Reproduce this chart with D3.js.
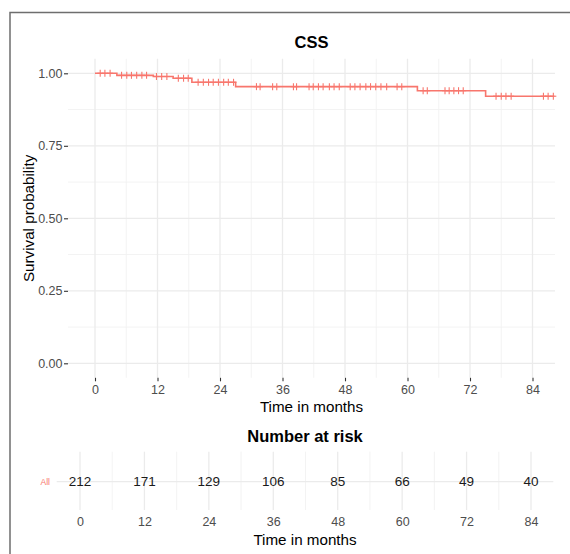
<!DOCTYPE html>
<html>
<head>
<meta charset="utf-8">
<script src="https://cdn.jsdelivr.net/npm/d3@7"></script>
<style>
  body { margin: 0; background: #fff; }
  svg { display: block; font-family: "Liberation Sans", Arial, sans-serif; }
</style>
</head>
<body>
<svg id="chart"></svg>
<script>
// Kaplan-Meier steps (time in months, survival)
const stepTimes = [0, 4.2, 11.2, 15.0, 18.6, 27.0, 61.9, 75.0];
const stepSurv = [1.0, 0.993, 0.989, 0.983, 0.969, 0.954, 0.940, 0.921];
const endTime = 88.2;

// censoring marks
const censorTimes = [
  1.0, 1.9, 2.9,
  5.1, 6.1, 7.0, 8.0, 9.0, 9.9,
  11.8, 12.8, 13.8,
  16.0, 17.0, 17.9,
  19.8, 20.8, 21.8, 22.7, 23.7, 24.7, 25.6, 26.6,
  31.0, 31.7, 34.1, 34.9, 38.1, 38.7, 41.1, 41.9, 42.9, 43.8, 45.0, 45.9, 46.9,
  49.0, 49.9, 50.9, 52.0, 52.9, 53.9, 54.9, 56.0, 58.0, 58.9,
  63.0, 63.8, 67.2, 68.0, 68.9, 69.8, 70.7,
  77.0, 78.0, 78.9, 79.9, 86.1, 87.0, 88.0
];

const xTicks = [0, 12, 24, 36, 48, 60, 72, 84];
const xMinor = [6, 18, 30, 42, 54, 66, 78];
const yTicks = [0, 0.25, 0.5, 0.75, 1];
const yMinor = [0.125, 0.375, 0.625, 0.875];
const atRisk = [212, 171, 129, 106, 85, 66, 49, 40];

const W = 570, H = 554;
const red = "#F8766D";
const grid = "#ebebeb";
const font = "'Liberation Sans', Arial, sans-serif";

const svg = d3.select("#chart").attr("width", W).attr("height", H);

// outer frame
svg.append("rect")
  .attr("x", 10).attr("y", 12.5)
  .attr("width", 600).attr("height", 600)
  .attr("fill", "none").attr("stroke", "#6e6e6e").attr("stroke-width", 1.5);

// ---- main survival plot ----
const px = { left: 68, right: 555, top: 58.8, bottom: 377.8 };
const x = d3.scaleLinear().domain([0, 84]).range([95, 532.5]);
const y = d3.scaleLinear().domain([0, 1]).range([363.3, 73.3]);

const main = svg.append("g");

main.selectAll(".vminor").data(xMinor).enter().append("line")
  .attr("x1", d => x(d)).attr("x2", d => x(d))
  .attr("y1", px.top).attr("y2", px.bottom)
  .attr("stroke", "#f2f2f2").attr("stroke-width", 0.9);
main.selectAll(".hminor").data(yMinor).enter().append("line")
  .attr("x1", px.left).attr("x2", px.right)
  .attr("y1", d => y(d)).attr("y2", d => y(d))
  .attr("stroke", "#f2f2f2").attr("stroke-width", 0.9);
main.selectAll(".vmajor").data(xTicks).enter().append("line")
  .attr("x1", d => x(d)).attr("x2", d => x(d))
  .attr("y1", px.top).attr("y2", px.bottom)
  .attr("stroke", grid).attr("stroke-width", 1.3);
main.selectAll(".hmajor").data(yTicks).enter().append("line")
  .attr("x1", px.left).attr("x2", px.right)
  .attr("y1", d => y(d)).attr("y2", d => y(d))
  .attr("stroke", grid).attr("stroke-width", 1.3);

// axes
const xAxis = main.append("g")
  .attr("transform", `translate(0,${px.bottom})`)
  .call(d3.axisBottom(x).tickValues(xTicks).tickSize(3.5).tickPadding(3.5));
const yAxis = main.append("g")
  .attr("transform", `translate(${px.left},0)`)
  .call(d3.axisLeft(y).tickValues(yTicks).tickFormat(d3.format(".2f")).tickSize(4).tickPadding(1.5));
[xAxis, yAxis].forEach(a => {
  a.select(".domain").remove();
  a.selectAll(".tick line").attr("stroke", "#333").attr("stroke-width", 1.1);
  a.selectAll("text").attr("fill", "#4d4d4d").style("font-size", "12.5px")
    .style("font-family", font);
});

// KM curve
const pts = stepTimes.map((t, i) => [t, stepSurv[i]]);
pts.push([endTime, stepSurv[stepSurv.length - 1]]);
const line = d3.line().x(d => x(d[0])).y(d => y(d[1])).curve(d3.curveStepAfter);
main.append("path").datum(pts)
  .attr("d", line).attr("fill", "none")
  .attr("stroke", red).attr("stroke-width", 1.6);

function survAt(t) {
  let s = 1;
  stepTimes.forEach((st, i) => { if (t >= st) s = stepSurv[i]; });
  return s;
}
const marks = main.selectAll(".cens").data(censorTimes).enter().append("g")
  .attr("transform", d => `translate(${x(d)},${y(survAt(d))})`);
marks.append("line").attr("x1", 0).attr("x2", 0).attr("y1", -3.5).attr("y2", 3.5)
  .attr("stroke", red).attr("stroke-width", 1.1);
marks.append("line").attr("x1", -3).attr("x2", 3).attr("y1", 0).attr("y2", 0)
  .attr("stroke", red).attr("stroke-width", 1.1);

// titles
const midX = (px.left + px.right) / 2;
svg.append("text").attr("x", midX).attr("y", 42).attr("dy", "0.35em")
  .attr("text-anchor", "middle").style("font-size", "16.5px").style("font-weight", "bold")
  .text("CSS");
svg.append("text").attr("x", midX).attr("y", 406.7).attr("dy", "0.35em")
  .attr("text-anchor", "middle").style("font-size", "15.2px").attr("fill", "#000")
  .text("Time in months");
svg.append("text")
  .attr("transform", `translate(29,${(px.top + px.bottom) / 2}) rotate(-90)`)
  .attr("dy", "0.35em").attr("text-anchor", "middle").style("font-size", "15.2px")
  .text("Survival probability");

// ---- number at risk table ----
const rt = { left: 56.7, right: 553.3, top: 451.7, bottom: 510, row: 481.7 };
const xr = d3.scaleLinear().domain([0, 84]).range([80, 531]);
const risk = svg.append("g");

risk.selectAll(".rminor").data(xMinor).enter().append("line")
  .attr("x1", d => xr(d)).attr("x2", d => xr(d))
  .attr("y1", rt.top).attr("y2", rt.bottom)
  .attr("stroke", "#f2f2f2").attr("stroke-width", 0.9);
risk.selectAll(".rmajor").data(xTicks).enter().append("line")
  .attr("x1", d => xr(d)).attr("x2", d => xr(d))
  .attr("y1", rt.top).attr("y2", rt.bottom)
  .attr("stroke", grid).attr("stroke-width", 1.3);
risk.append("line")
  .attr("x1", rt.left).attr("x2", rt.right).attr("y1", rt.row).attr("y2", rt.row)
  .attr("stroke", grid).attr("stroke-width", 1.3);

risk.selectAll(".num").data(atRisk).enter().append("text")
  .attr("x", (d, i) => xr(xTicks[i])).attr("y", rt.row).attr("dy", "0.35em")
  .attr("text-anchor", "middle").style("font-size", "13.5px").attr("fill", "#1a1a1a")
  .text(d => d);

risk.append("text").attr("x", 50).attr("y", rt.row).attr("dy", "0.35em")
  .attr("text-anchor", "end").style("font-size", "8.5px").attr("fill", red)
  .text("All");

const rAxis = risk.append("g")
  .attr("transform", `translate(0,${rt.bottom})`)
  .call(d3.axisBottom(xr).tickValues(xTicks).tickSize(0).tickPadding(7));
rAxis.select(".domain").remove();
rAxis.selectAll("text").attr("fill", "#4d4d4d").style("font-size", "12.5px")
  .style("font-family", font);

const rMid = (rt.left + rt.right) / 2;
svg.append("text").attr("x", rMid).attr("y", 436).attr("dy", "0.35em")
  .attr("text-anchor", "middle").style("font-size", "16.5px").style("font-weight", "bold")
  .text("Number at risk");
svg.append("text").attr("x", rMid).attr("y", 540).attr("dy", "0.35em")
  .attr("text-anchor", "middle").style("font-size", "15.2px")
  .text("Time in months");
</script>
</body>
</html>
